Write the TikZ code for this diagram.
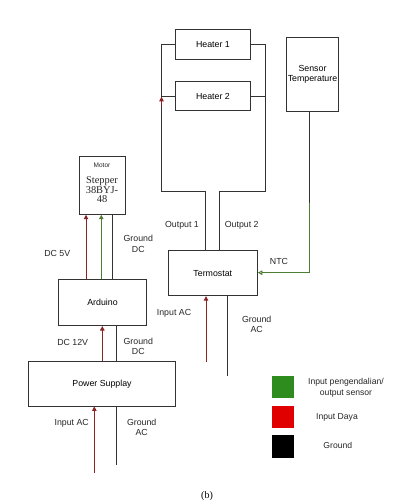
\documentclass[tikz,border=0pt]{standalone}
\usepackage{fontspec}
\setmainfont{Liberation Serif}
\setsansfont{Liberation Sans}
\usetikzlibrary{arrows.meta}
\definecolor{wire}{HTML}{333333}
\definecolor{pwr}{HTML}{8B2323}
\definecolor{ctl}{HTML}{4E7D34}
\definecolor{lgreen}{HTML}{2E8B1E}
\definecolor{lred}{HTML}{E00000}
\tikzset{
  box/.style={draw=wire, line width=0.9pt, fill=white, inner sep=0pt, font=\sffamily\fontsize{8.8}{10.5}\selectfont, align=center},
  lbl/.style={font=\sffamily\fontsize{8.8}{10.5}\selectfont, align=center, inner sep=0pt, text=black!85},
  wireline/.style={draw=wire, line width=0.95pt},
  pwrline/.style={draw=pwr, line width=0.95pt, -{Triangle[width=4.5pt,length=4.5pt]}},
  ctlline/.style={draw=ctl, line width=0.95pt, -{Triangle[width=4.5pt,length=4.5pt,open]}},
  ctlfill/.style={draw=ctl, line width=0.95pt, -{Triangle[width=4.5pt,length=4.5pt]}},
  legsq/.style={minimum width=22.5pt, minimum height=22.5pt, inner sep=0pt},
  legtxt/.style={font=\sffamily\fontsize{8.6}{10.5}\selectfont, align=center, inner sep=0pt, text=black!85}
}
\begin{document}
\begin{tikzpicture}[x=1pt,y=-1pt]
\useasboundingbox (0,0) rectangle (411,502);
% boxes
\node[box, minimum width=74.3pt, minimum height=30pt] (h1) at (212.9,44.3) {Heater 1};
\node[box, minimum width=74.3pt, minimum height=29.3pt] (h2) at (212.9,96.3) {Heater 2};
\node[box, minimum width=51.6pt, minimum height=73.7pt] (sens) at (312.5,74.2) {Sensor\\Temperature};
\node[box, minimum width=89pt, minimum height=45pt] (term) at (212.8,273.2) {Termostat};
\node[box, minimum width=46pt, minimum height=57.6pt] (mot) at (102,185.5) {};
\node[font=\sffamily\fontsize{6.5}{7}\selectfont, inner sep=0pt, text=black!85] (motl) at (102,165.7) {Motor};
\node[font=\fontsize{10.4}{9.7}\selectfont, align=center, inner sep=0pt, text=black!85] (motx) at (102,189.8) {Stepper\\38BYJ-\\48};
\node[box, minimum width=88.4pt, minimum height=45.7pt] (ard) at (102.5,302.7) {Arduino};
\node[box, minimum width=147.4pt, minimum height=44.3pt] (ps) at (102,383.8) {Power Supplay};
% helper coordinates
\coordinate (busL) at (161.5,191.7);
\coordinate (busR) at (265,191.7);
\coordinate (o1) at (205,0);
\coordinate (o2) at (219.3,0);
\coordinate (sx) at (309,0);
\coordinate (sg) at (309,203);
\coordinate (ntc) at (309,272.7);
\coordinate (tin) at (206,361.7);
\coordinate (tgnd) at (227.3,376);
\coordinate (m1) at (86,0);
\coordinate (m2) at (101.3,0);
\coordinate (m3) at (112.7,0);
\coordinate (a1) at (102.3,0);
\coordinate (a2) at (116.7,0);
\coordinate (pin) at (94.3,472.7);
\coordinate (pgnd) at (116.7,465);
\coordinate (redtipfrom) at (161.5,106);
\coordinate (redtipto) at (161.5,96.8);
% heater bus
\draw[wireline] (h1.west) -- (h1.west -| busL) -- (busL) -- (busL -| o1) -- (term.north -| o1);
\draw[wireline] (h2.west) -- (h2.west -| busL);
\draw[wireline] (h1.east) -- (h1.east -| busR) -- (busR) -- (busR -| o2) -- (term.north -| o2);
\draw[wireline] (h2.east) -- (h2.east -| busR);
\draw[pwrline] (redtipfrom) -- (redtipto);
% sensor
\draw[wireline] (sens.south -| sx) -- (sg);
\draw[ctlline] (sg) -- (ntc) -- (ntc -| term.east);
% termostat inputs
\draw[pwrline] (tin) -- (tin |- term.south);
\draw[wireline] (tgnd |- term.south) -- (tgnd);
% motor
\draw[pwrline] (ard.north -| m1) -- (mot.south -| m1);
\draw[ctlfill] (ard.north -| m2) -- (mot.south -| m2);
\draw[wireline] (ard.north -| m3) -- (mot.south -| m3);
% arduino - power supply
\draw[pwrline] (ps.north -| a1) -- (ard.south -| a1);
\draw[wireline] (ps.north -| a2) -- (ard.south -| a2);
% power supply inputs
\draw[pwrline] (pin) -- (pin |- ps.south);
\draw[wireline] (pgnd |- ps.south) -- (pgnd);
% labels
\node[lbl] (lo1) at (182,225) {Output 1};
\node[lbl] (lo2) at (241.7,225) {Output 2};
\node[lbl] (lntc) at (279,261.7) {NTC};
\node[lbl] (ltin) at (174,313) {Input AC};
\node[lbl] (ltg) at (256.7,324.5) {Ground\\AC};
\node[lbl] (l5v) at (57.3,253.3) {DC 5V};
\node[lbl] (lgdc1) at (138.3,243.8) {Ground\\DC};
\node[lbl] (l12) at (72.7,342.7) {DC 12V};
\node[lbl] (lgdc2) at (138.3,346.6) {Ground\\DC};
\node[lbl] (lpin) at (71.7,423.3) {Input AC};
\node[lbl] (lpg) at (141.7,427.2) {Ground\\AC};
% legend
\node[legsq, fill=lgreen] (lg) at (282.8,387) {};
\node[legsq, fill=lred] (lr) at (282.8,417) {};
\node[legsq, fill=black] (lb) at (282.8,446.3) {};
\node[legtxt] (tg) at (346,388) {Input pengendalian/\\output sensor};
\node[legtxt] (tr) at (337,417.3) {Input Daya};
\node[legtxt] (tb) at (337.8,445.7) {Ground};
% caption
\node[font=\fontsize{10}{12}\selectfont, inner sep=0pt] (cap) at (207,496.3) {(b)};
\end{tikzpicture}
\end{document}
